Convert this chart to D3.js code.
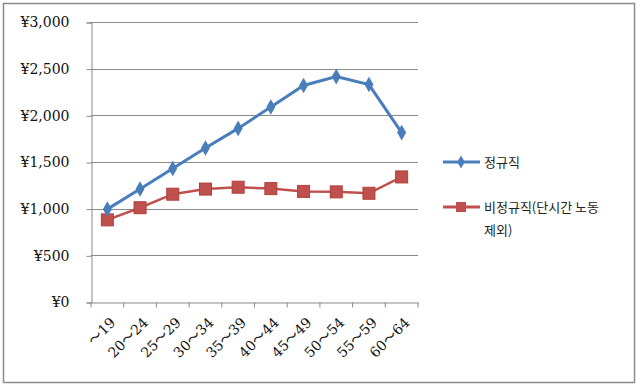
<!DOCTYPE html>
<html>
<head>
<meta charset="utf-8">
<script src="https://cdn.jsdelivr.net/npm/d3@7"></script>
<style>
body { margin: 0; background: #fff; }
</style>
</head>
<body>
<svg width="640" height="387"></svg>
<script>
// age groups and hourly wages (yen)
var ages = ["～19", "20～24", "25～29", "30～34", "35～39", "40～44", "45～49", "50～54", "55～59", "60～64"]
var regular = [995, 1210, 1430, 1650, 1860, 2090, 2320, 2415, 2330, 1815]
var nonRegular = [880, 1010, 1155, 1210, 1230, 1215, 1185, 1180, 1165, 1340]
var yTicks = [0, 500, 1000, 1500, 2000, 2500, 3000]
var seriesNames = ["정규직", "비정규직(단시간 노동", "제외)"]

var svg = d3.select("svg")
var plotL = 91, plotR = 418, plotT = 22, plotB = 302

svg.append("rect").attr("x", 3.5).attr("y", 3.5).attr("width", 631).attr("height", 379)
	.attr("fill", "#fff").attr("stroke", "#8c8c8c").attr("stroke-width", 1.5)

var x = d3.scaleBand().domain(ages).range([plotL, plotR])
var y = d3.scaleLinear().domain([0, 3000]).range([plotB, plotT])

// gridlines
svg.append("g").selectAll("line").data(yTicks.slice(1)).enter().append("line")
	.attr("x1", plotL).attr("x2", plotR)
	.attr("y1", function(d) { return Math.round(y(d)) + 0.5 })
	.attr("y2", function(d) { return Math.round(y(d)) + 0.5 })
	.attr("stroke", "#8a8a8a").attr("stroke-width", 1)

var yAxis = svg.append("g").attr("transform", "translate(" + (plotL + 0.5) + ",0.5)")
	.call(d3.axisLeft(y).tickValues(yTicks).tickSize(5).tickPadding(17)
		.tickFormat(function(d) { return "¥" + d3.format(",")(d) }))
yAxis.select(".domain").attr("stroke", "#8a8a8a")
yAxis.selectAll(".tick line").attr("stroke", "#8a8a8a")
yAxis.selectAll("text").attr("font-family", "DejaVu Serif").attr("font-size", 14).attr("fill", "#111")

var xAxis = svg.append("g").attr("transform", "translate(0," + (plotB + 0.5) + ")")
	.call(d3.axisBottom(x).tickSize(5).tickSizeOuter(0))
xAxis.select(".domain").attr("stroke", "#8a8a8a")
// ticks at category boundaries
xAxis.selectAll(".tick line").attr("stroke", "#8a8a8a").attr("x1", -x.bandwidth() / 2).attr("x2", -x.bandwidth() / 2)
xAxis.append("line").attr("x1", plotR).attr("x2", plotR).attr("y1", 0).attr("y2", 5).attr("stroke", "#8a8a8a")
xAxis.selectAll(".tick text").attr("font-family", "DejaVu Serif").attr("font-size", 14).attr("fill", "#111")
	.attr("text-anchor", "end").attr("dy", 0).attr("y", 0)
	.attr("transform", "translate(9,21) rotate(-45)")
	.each(function(d) {
		var t = d3.select(this).text("")
		var parts = d.split("～")
		if (parts[0]) t.append("tspan").text(parts[0])
		t.append("tspan").attr("font-family", "Noto Sans CJK JP").text("～")
		t.append("tspan").text(parts[1])
	})

var line = d3.line().x(function(d, i) { return x(ages[i]) + x.bandwidth() / 2 }).y(function(d) { return y(d) })

svg.append("path").datum(nonRegular).attr("d", line).attr("fill", "none")
	.attr("stroke", "#c0504d").attr("stroke-width", 2.5)
svg.append("g").selectAll("rect").data(nonRegular).enter().append("rect")
	.attr("x", function(d, i) { return x(ages[i]) + x.bandwidth() / 2 - 6 })
	.attr("y", function(d) { return y(d) - 6 })
	.attr("width", 12).attr("height", 12).attr("fill", "#c0504d").attr("stroke", "#b0403d")

svg.append("path").datum(regular).attr("d", line).attr("fill", "none")
	.attr("stroke", "#4a7ebb").attr("stroke-width", 3)
svg.append("g").selectAll("path").data(regular).enter().append("path")
	.attr("d", d3.symbol().type(d3.symbolDiamond).size(70))
	.attr("transform", function(d, i) { return "translate(" + (x(ages[i]) + x.bandwidth() / 2) + "," + y(d) + ")" })
	.attr("fill", "#4a7ebb")

// legend
var lg = svg.append("g").attr("font-family", "Noto Sans CJK KR").attr("font-size", 13).attr("fill", "#222")
lg.append("line").attr("x1", 443).attr("x2", 480).attr("y1", 162).attr("y2", 162).attr("stroke", "#4a7ebb").attr("stroke-width", 3)
lg.append("path").attr("d", d3.symbol().type(d3.symbolDiamond).size(50)).attr("transform", "translate(461,162)").attr("fill", "#4a7ebb")
lg.append("text").attr("x", 484).attr("y", 167).text(seriesNames[0])
lg.append("line").attr("x1", 443).attr("x2", 480).attr("y1", 207).attr("y2", 207).attr("stroke", "#c0504d").attr("stroke-width", 3)
lg.append("rect").attr("x", 456).attr("y", 202).attr("width", 10).attr("height", 10).attr("fill", "#c0504d")
lg.append("text").attr("x", 484).attr("y", 212).text(seriesNames[1])
lg.append("text").attr("x", 484).attr("y", 235).text(seriesNames[2])
</script>
</body>
</html>
